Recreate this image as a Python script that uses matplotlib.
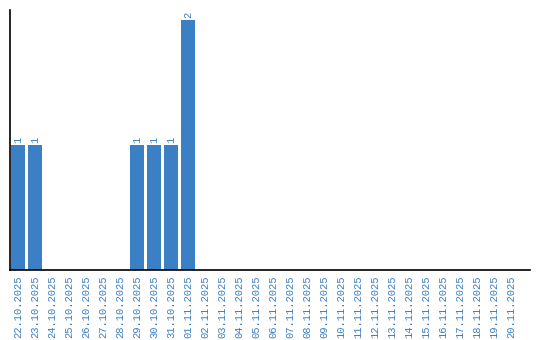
import matplotlib
matplotlib.use("Agg")
import matplotlib.pyplot as plt

dates = ["22.10.2025", "23.10.2025", "24.10.2025", "25.10.2025", "26.10.2025",
         "27.10.2025", "28.10.2025", "29.10.2025", "30.10.2025", "31.10.2025",
         "01.11.2025", "02.11.2025", "03.11.2025", "04.11.2025", "05.11.2025",
         "06.11.2025", "07.11.2025", "08.11.2025", "09.11.2025", "10.11.2025",
         "11.11.2025", "12.11.2025", "13.11.2025", "14.11.2025", "15.11.2025",
         "16.11.2025", "17.11.2025", "18.11.2025", "19.11.2025", "20.11.2025"]
counts = [1, 1, 0, 0, 0, 0, 0, 1, 1, 1, 2, 0, 0, 0, 0,
          0, 0, 0, 0, 0, 0, 0, 0, 0, 0, 0, 0, 0, 0, 0]

bar_color = "#3b7fc4"
text_color = "#3a7fc1"

fig = plt.figure(figsize=(5.4, 3.4), dpi=100)
ax = fig.add_axes([10/540, 70/340, 520/540, 260/340])

x = list(range(len(dates)))
ax.bar(x, counts, width=0.82, color=bar_color, zorder=2)
for xi, v in zip(x, counts):
    if v > 0:
        ax.text(xi, v + 0.02, str(v), rotation=90, ha="center", va="bottom",
                fontsize=7.5, color=text_color, family="Liberation Mono")

ax.set_xlim(-0.47, 30.1)
ax.set_ylim(0, 2.08)
ax.set_xticks(x)
ax.set_xticklabels(dates, rotation=90, fontsize=7.6, color=text_color,
                   family="Liberation Mono")
ax.tick_params(axis="x", length=0, pad=4)
ax.set_yticks([])
for s in ["top", "right"]:
    ax.spines[s].set_visible(False)
ax.spines["left"].set_linewidth(1.2)
ax.spines["bottom"].set_linewidth(1.2)

fig.savefig("out.png", dpi=100)
